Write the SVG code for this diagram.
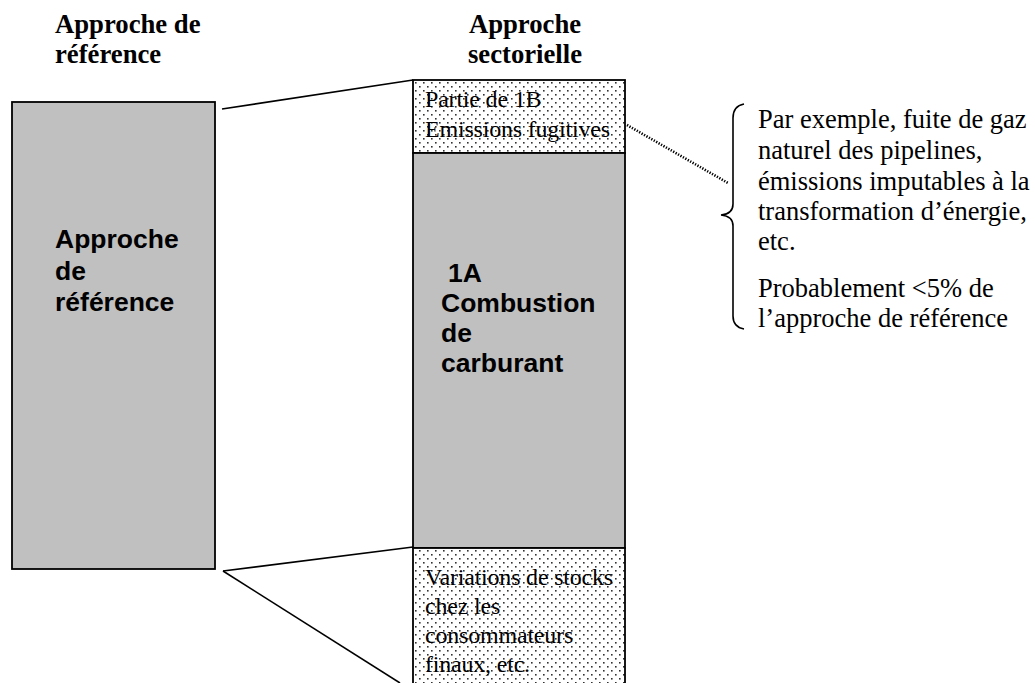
<svg xmlns="http://www.w3.org/2000/svg" width="1035" height="683" viewBox="0 0 1035 683">
  <style>
    .head { font-family: "Liberation Serif", "Times New Roman", serif; font-weight: bold; font-size: 26.7px; fill: #000; }
    .box { fill: #c0c0c0; stroke: #000; stroke-width: 1.8; }
    .dot { fill: url(#dots); stroke: #000; stroke-width: 1.8; }
    .bold { font-family: "Liberation Sans", Arial, sans-serif; font-weight: bold; font-size: 26.5px; fill: #000; }
    .small { font-family: "Liberation Serif", "Times New Roman", serif; font-size: 24px; fill: #000; letter-spacing: -0.2px; }
    .note { font-family: "Liberation Serif", "Times New Roman", serif; font-size: 26.5px; fill: #000; }
    .line { stroke: #000; stroke-width: 1.6; fill: none; }
    .dotted { stroke: #000; stroke-width: 2.6; stroke-dasharray: 1.3 1.5; fill: none; }
  </style>
  <defs>
    <pattern id="dots" patternUnits="userSpaceOnUse" x="413" y="80" width="8" height="8">
      <rect width="8" height="8" fill="#fff"/>
      <rect x="2" y="2" width="1.6" height="1.6" fill="#333"/>
      <rect x="6" y="6" width="1.6" height="1.6" fill="#333"/>
    </pattern>
  </defs>
  <rect width="1035" height="683" fill="#fff"/>

  <g id="heading-reference">
    <text class="head" x="55" y="33">Approche de</text>
    <text class="head" x="55" y="63">référence</text>
  </g>
  <g id="heading-sectorielle">
    <text class="head" x="525" y="33" text-anchor="middle">Approche</text>
    <text class="head" x="525" y="63" text-anchor="middle">sectorielle</text>
  </g>

  <g id="connectors">
    <line class="line" x1="222" y1="109" x2="413" y2="80"/>
    <line class="line" x1="223" y1="571" x2="413" y2="547"/>
    <line class="line" x1="223" y1="571" x2="400" y2="683"/>
    <line class="dotted" x1="627" y1="125" x2="728" y2="183"/>
  </g>

  <g id="node-reference">
    <rect class="box" x="12" y="102" width="203" height="467"/>
    <text class="bold" x="55" y="248">Approche</text>
    <text class="bold" x="55" y="280">de</text>
    <text class="bold" x="55" y="311">référence</text>
  </g>

  <g id="node-1b">
    <rect class="dot" x="413" y="80" width="212" height="73"/>
    <text class="small" x="425" y="107">Partie de 1B</text>
    <text class="small" x="425" y="137">Emissions fugitives</text>
  </g>

  <g id="node-1a">
    <rect class="box" x="413" y="153" width="212" height="395"/>
    <text class="bold" x="448" y="282">1A</text>
    <text class="bold" x="441" y="312">Combustion</text>
    <text class="bold" x="441" y="342">de</text>
    <text class="bold" x="441" y="372">carburant</text>
  </g>

  <g id="node-stocks">
    <rect class="dot" x="413" y="548" width="212" height="145"/>
    <text class="small" x="425" y="585">Variations de stocks</text>
    <text class="small" x="425" y="614">chez les</text>
    <text class="small" x="425" y="643">consommateurs</text>
    <text class="small" x="425" y="672">finaux, etc.</text>
  </g>

  <g id="note">
    <path class="line" d="M744,104 Q733,106 733,118 L733,204 Q733,214 721,215 Q733,216 733,226 L733,316 Q733,327 744,329"/>
    <text class="note" x="758" y="128">Par exemple, fuite de gaz</text>
    <text class="note" x="758" y="159">naturel des pipelines,</text>
    <text class="note" x="758" y="190">émissions imputables à la</text>
    <text class="note" x="758" y="220">transformation d’énergie,</text>
    <text class="note" x="758" y="250">etc.</text>
    <text class="note" x="758" y="297">Probablement &lt;5% de</text>
    <text class="note" x="758" y="327">l’approche de référence</text>
  </g>
</svg>
